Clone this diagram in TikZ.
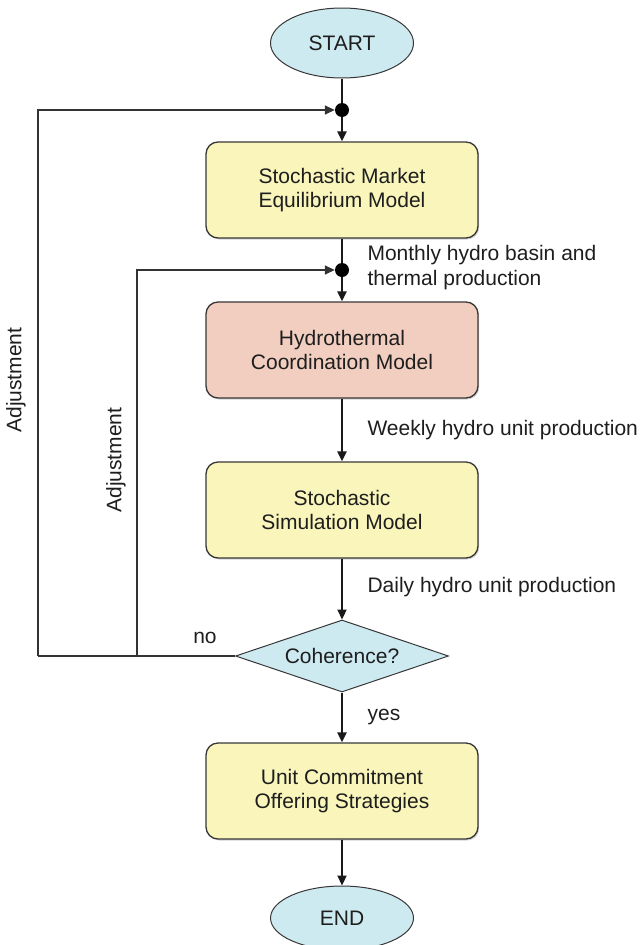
\documentclass[tikz,border=0pt]{standalone}
\usepackage{fontspec}
\setmainfont{Liberation Sans}
\usetikzlibrary{shapes.geometric,arrows.meta,shadows}
\definecolor{boxyellow}{RGB}{249,245,187}
\definecolor{boxsalmon}{RGB}{241,206,192}
\definecolor{termblue}{RGB}{206,234,241}
\definecolor{edgegray}{RGB}{55,55,55}
\definecolor{txtgray}{RGB}{30,30,30}
\begin{document}
\begin{tikzpicture}[x=1pt, y=-1pt,
    proc/.style={rectangle, draw=edgegray, line width=1.3pt, rounded corners=12pt,
                 fill=boxyellow, minimum width=272pt, minimum height=96pt, align=center,
                 text=txtgray, font=\fontsize{21}{24}\selectfont,
                 drop shadow={shadow xshift=1.2pt, shadow yshift=-1.5pt, opacity=0.35}},
    term/.style={ellipse, draw=edgegray, line width=1pt, fill=termblue,
                 minimum width=143pt, minimum height=70pt, text=txtgray,
                 font=\fontsize{21}{24}\selectfont},
    decide/.style={diamond, draw=edgegray, line width=1pt, fill=termblue, aspect=2.95,
                   minimum width=213pt, minimum height=72pt, inner sep=0pt, text=txtgray,
                   font=\fontsize{21}{24}\selectfont},
    junc/.style={circle, fill=black, inner sep=0pt, minimum size=14pt},
    lab/.style={anchor=west, align=left, text=txtgray, font=\fontsize{21}{25}\selectfont},
    flow/.style={-{Triangle[length=10pt,width=9pt]}, line width=2.2pt, draw=black!90},
    back/.style={line width=1.5pt, draw=black!80}
]
    \useasboundingbox (0,0) rectangle (644,945);

    \node[term]  (start) at (342,43)  {START};
    \node[junc]  (dot1)  at (342,110) {};
    \node[proc]  (smem)  at (342,190) {Stochastic Market\\Equilibrium Model};
    \node[junc]  (dot2)  at (342,270) {};
    \node[proc, fill=boxsalmon] (htc) at (342,350) {Hydrothermal\\Coordination Model};
    \node[proc]  (ssm)   at (342,510) {Stochastic\\Simulation Model};
    \node[decide] (coh)  at (342,656) {Coherence?};
    \node[proc]  (ucos)  at (342,791) {Unit Commitment\\Offering Strategies};
    \node[term, minimum height=64pt] (end) at (342,918) {END};

    \coordinate (fbin)  at (137,656);
    \coordinate (fbout) at (38,656);

    \draw[line width=2.2pt, draw=black!90] (start) -- (dot1);
    \draw[flow] (dot1) -- (smem);
    \draw[line width=2.2pt, draw=black!90] (smem) -- (dot2);
    \draw[flow] (dot2) -- (htc);
    \draw[flow] (htc)  -- (ssm);
    \draw[flow] (ssm)  -- (coh);
    \draw[flow] (coh)  -- (ucos);
    \draw[flow] (ucos) -- (end);

    \draw[back] (coh.west) -- (fbin) -- (fbout);
    \draw[back, -{Triangle[length=10pt,width=9pt]}] (fbin) |- (dot2);
    \draw[back, -{Triangle[length=10pt,width=9pt]}] (fbout) |- (dot1);

    \node[lab] (lmonth) at (364,268) {Monthly hydro basin and\\thermal production};
    \node[lab] (lweek)  at (364,430) {Weekly hydro unit production};
    \node[lab] (lday)   at (364,587) {Daily hydro unit production};
    \node[lab, anchor=center] (lno)  at (205,638) {no};
    \node[lab, anchor=center] (lyes) at (384,717) {yes};
    \node[lab, anchor=center, rotate=90] (ladj1) at (16,380)  {Adjustment};
    \node[lab, anchor=center, rotate=90] (ladj2) at (116,460) {Adjustment};
\end{tikzpicture}
\end{document}
